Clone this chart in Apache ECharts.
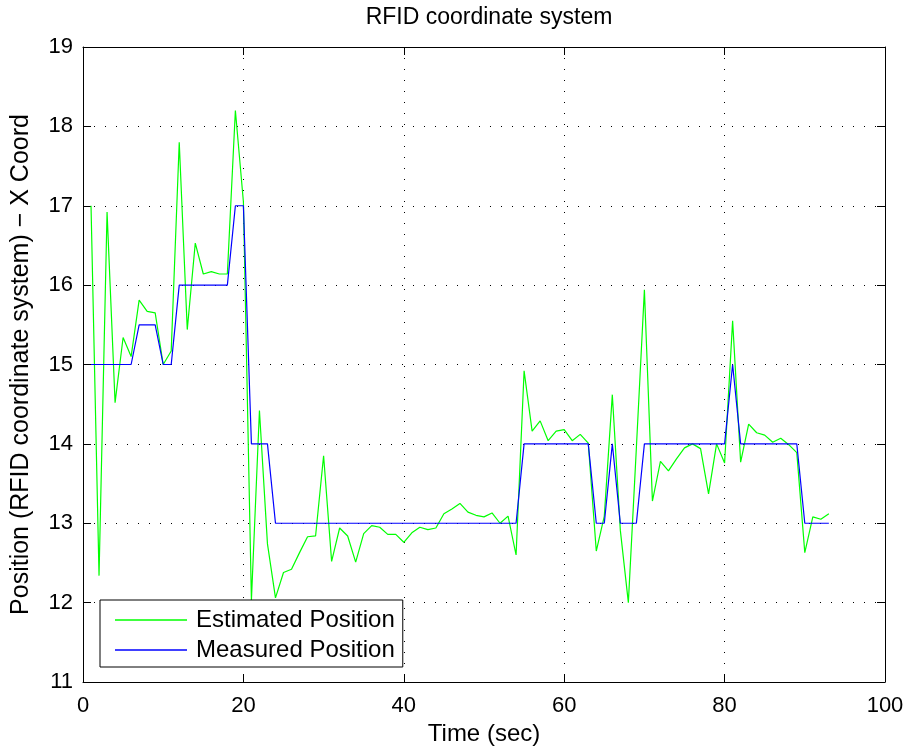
<!DOCTYPE html>
<html>
<head>
<meta charset="utf-8">
<script src="https://cdn.jsdelivr.net/npm/echarts@6/dist/echarts.min.js"></script>
<style>
    html, body { margin: 0; padding: 0; background: #fff; }
    #main { width: 914px; height: 754px; }
</style>
</head>
<body>
<div id="main"></div>
<script>
// 时间 (sec)
var timeArr = [
    1, 2, 3, 4, 5, 6, 7, 8, 9, 10,
    11, 12, 13, 14, 15, 16, 17, 18, 19, 20,
    21, 22, 23, 24, 25, 26, 27, 28, 29, 30,
    31, 32, 33, 34, 35, 36, 37, 38, 39, 40,
    41, 42, 43, 44, 45, 46, 47, 48, 49, 50,
    51, 52, 53, 54, 55, 56, 57, 58, 59, 60,
    61, 62, 63, 64, 65, 66, 67, 68, 69, 70,
    71, 72, 73, 74, 75, 76, 77, 78, 79, 80,
    81, 82, 83, 84, 85, 86, 87, 88, 89, 90,
    91, 92, 93
];
// 估计位置
var estimatedArr = [
    17.0, 12.34, 16.92, 14.52, 15.34, 15.1, 15.81, 15.67, 15.65, 15.0,
    15.17, 17.8, 15.44, 16.53, 16.14, 16.17, 16.14, 16.14, 18.2, 17.05,
    12.03, 14.42, 12.74, 12.06, 12.38, 12.42, 12.63, 12.83, 12.84, 13.85,
    12.52, 12.94, 12.84, 12.51, 12.87, 12.97, 12.95, 12.86, 12.86, 12.76,
    12.88, 12.95, 12.92, 12.94, 13.12, 13.18, 13.25, 13.14, 13.10, 13.08,
    13.13, 13.0, 13.09, 12.6, 14.92, 14.16, 14.29, 14.04, 14.16, 14.18,
    14.04, 14.12, 14.01, 12.65, 13.09, 14.62, 12.91, 12.0, 13.95, 15.94,
    13.28, 13.78, 13.66, 13.81, 13.95, 14.0, 13.94, 13.37, 14.0, 13.76,
    15.55, 13.77, 14.25, 14.14, 14.11, 14.02, 14.07, 13.99, 13.89, 12.63,
    13.08, 13.05, 13.12
];
// 测量位置
var measuredArr = [
    15, 15, 15, 15, 15, 15, 15.5, 15.5, 15.5, 15,
    15, 16, 16, 16, 16, 16, 16, 16, 17, 17,
    14, 14, 14, 13, 13, 13, 13, 13, 13, 13,
    13, 13, 13, 13, 13, 13, 13, 13, 13, 13,
    13, 13, 13, 13, 13, 13, 13, 13, 13, 13,
    13, 13, 13, 13, 14, 14, 14, 14, 14, 14,
    14, 14, 14, 13, 13, 14, 13, 13, 13, 14,
    14, 14, 14, 14, 14, 14, 14, 14, 14, 14,
    15, 14, 14, 14, 14, 14, 14, 14, 14, 13,
    13, 13, 13
];
var seriesNames = ['Estimated Position', 'Measured Position'];

function toPairs(xs, ys){
    var out = [];
    for(var i = 0; i < xs.length; i++){
        out.push([xs[i], ys[i]]);
    }
    return out;
}

var fontName = 'Liberation Sans';
var dotLine = { color: '#000', width: 1, type: [1, 10] };
// 边框轴（上/右），只画刻度
function boxAxis(pos, min, max, interval){
    return {
        type: 'value', position: pos, min: min, max: max, interval: interval,
        axisLine: { show: true, onZero: false, lineStyle: { color: '#000', width: 1 } },
        axisTick: { show: true, inside: true, length: 8, lineStyle: { color: '#000' } },
        axisLabel: { show: false },
        splitLine: { show: false }
    };
}

var chart = echarts.init(document.getElementById('main'));
var option = {
    backgroundColor: '#fff',
    animation: false,
    title: {
        text: 'RFID coordinate system',
        left: 489,
        top: 6,
        padding: 0,
        textAlign: 'center',
        textStyle: { fontFamily: fontName, fontSize: 23, fontWeight: 'normal', color: '#000' }
    },
    grid: { left: 83, right: 29, top: 47, bottom: 72 },
    legend: {
        data: seriesNames,
        orient: 'vertical',
        left: 100,
        top: 600,
        padding: [8, 8, 5, 15],
        itemGap: 6,
        itemWidth: 72,
        itemHeight: 1.5,
        icon: 'rect',
        backgroundColor: '#fff',
        borderColor: '#000',
        borderWidth: 1,
        borderRadius: 0,
        textStyle: { fontFamily: fontName, fontSize: 24, color: '#000', padding: [0, 0, 0, 4] }
    },
    xAxis: [{
        type: 'value', position: 'bottom', min: 0, max: 100, interval: 20,
        name: 'Time (sec)', nameLocation: 'middle', nameGap: 37,
        nameTextStyle: { fontFamily: fontName, fontSize: 24, color: '#000' },
        axisLine: { show: true, onZero: false, lineStyle: { color: '#000', width: 1 } },
        axisTick: { show: true, inside: true, length: 8, lineStyle: { color: '#000' } },
        axisLabel: { fontFamily: fontName, fontSize: 22, color: '#000', margin: 13 },
        splitLine: { show: true, lineStyle: dotLine }
    }, boxAxis('top', 0, 100, 20)],
    yAxis: [{
        type: 'value', position: 'left', min: 11, max: 19, interval: 1,
        name: 'Position (RFID coordinate system) \u2212 X Coord', nameLocation: 'middle', nameGap: 49,
        nameTextStyle: { fontFamily: fontName, fontSize: 25, color: '#000' },
        axisLine: { show: true, onZero: false, lineStyle: { color: '#000', width: 1 } },
        axisTick: { show: true, inside: true, length: 8, lineStyle: { color: '#000' } },
        axisLabel: { fontFamily: fontName, fontSize: 22, color: '#000', margin: 10 },
        splitLine: { show: true, lineStyle: dotLine }
    }, boxAxis('right', 11, 19, 1)],
    series: [{
        name: seriesNames[0],
        type: 'line',
        xAxisIndex: 0, yAxisIndex: 0,
        showSymbol: false,
        color: '#00ff00',
        lineStyle: { color: '#00ff00', width: 1.2 },
        data: toPairs(timeArr, estimatedArr)
    }, {
        name: seriesNames[1],
        type: 'line',
        xAxisIndex: 0, yAxisIndex: 0,
        showSymbol: false,
        color: '#0000ff',
        lineStyle: { color: '#0000ff', width: 1.2 },
        data: toPairs(timeArr, measuredArr)
    }]
};
chart.setOption(option);
</script>
</body>
</html>
